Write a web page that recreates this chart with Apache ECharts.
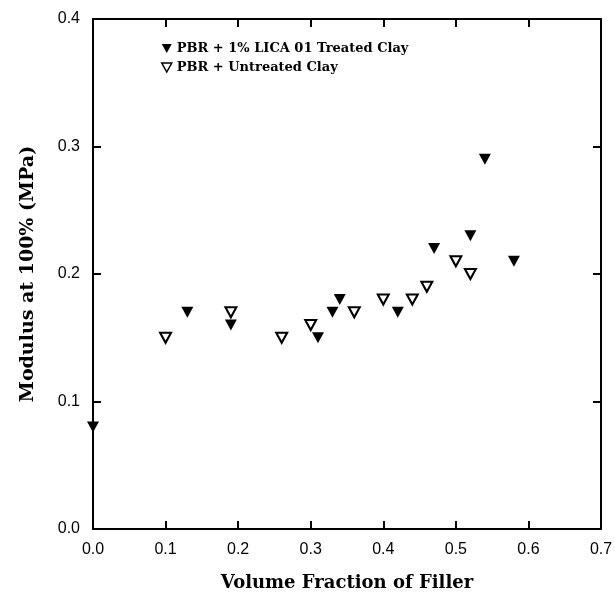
<!DOCTYPE html>
<html>
<head>
<meta charset="utf-8">
<script src="https://cdn.jsdelivr.net/npm/echarts@6/dist/echarts.min.js"></script>
<style>
  html, body { margin: 0; padding: 0; background: #fff; }
  #chart { width: 615px; height: 592px; }
</style>
</head>
<body>
<div id="chart"></div>
<script>
// Data
const treatedClay = [
    [0.00, 0.08], [0.13, 0.17], [0.19, 0.16], [0.31, 0.15], [0.33, 0.17],
    [0.34, 0.18], [0.42, 0.17], [0.47, 0.22], [0.52, 0.23], [0.54, 0.29],
    [0.58, 0.21]
];
const untreatedClay = [
    [0.10, 0.15], [0.19, 0.17], [0.26, 0.15], [0.30, 0.16], [0.36, 0.17],
    [0.40, 0.18], [0.44, 0.18], [0.46, 0.19], [0.50, 0.21], [0.52, 0.20]
];
const seriesNames = ['PBR + 1% LICA 01 Treated Clay', 'PBR + Untreated Clay'];

const chartDom = document.getElementById('chart');
const myChart = echarts.init(chartDom, null, { renderer: 'canvas' });

const downTriangle = 'path://M0,0 L10,0 L5,9 Z';
const serifFont = '"DejaVu Serif", serif';
const sansFont = '"Liberation Sans", Arial, sans-serif';

const axisLine = { show: true, onZero: false, lineStyle: { color: '#000', width: 2 } };
const tickStyle = { show: true, inside: true, length: 8, lineStyle: { color: '#000', width: 2 } };
const titleStyle = { fontFamily: serifFont, fontWeight: 'bold', fontSize: 18, color: '#000' };
const tickLabel = { formatter: v => v.toFixed(1), fontFamily: sansFont, fontSize: 16, color: '#000' };

const option = {
    backgroundColor: '#fff',
    animation: false,
    grid: { left: 93, right: 14, top: 19, bottom: 63, containLabel: false, outerBoundsMode: 'none' },
    legend: {
        orient: 'vertical',
        left: 156,
        top: 37,
        itemGap: 6,
        itemWidth: 10,
        itemHeight: 9,
        textStyle: { fontFamily: serifFont, fontWeight: 'bold', fontSize: 13, color: '#000' },
        data: [
            { name: seriesNames[0], icon: downTriangle, itemStyle: { color: '#000', borderWidth: 0, opacity: 1 } },
            { name: seriesNames[1], icon: downTriangle, itemStyle: { color: '#fff', borderColor: '#000', borderWidth: 1.5, opacity: 1 } }
        ]
    },
    xAxis: [
        {
            type: 'value',
            min: 0, max: 0.7, interval: 0.1,
            name: 'Volume Fraction of Filler',
            nameLocation: 'middle',
            nameGap: 45,
            nameTextStyle: titleStyle,
            axisLine, axisTick: tickStyle,
            splitLine: { show: false },
            axisLabel: Object.assign({ margin: 13 }, tickLabel)
        },
        {
            type: 'value', position: 'top',
            min: 0, max: 0.7, interval: 0.1,
            axisLine, axisTick: tickStyle,
            splitLine: { show: false }, axisLabel: { show: false }
        }
    ],
    yAxis: [
        {
            type: 'value',
            min: 0, max: 0.4, interval: 0.1,
            name: 'Modulus at 100% (MPa)',
            nameLocation: 'middle',
            nameGap: 55,
            nameTextStyle: Object.assign({}, titleStyle, { fontSize: 19 }),
            axisLine, axisTick: tickStyle,
            splitLine: { show: false },
            axisLabel: Object.assign({ margin: 13 }, tickLabel)
        },
        {
            type: 'value', position: 'right',
            min: 0, max: 0.4, interval: 0.1,
            axisLine, axisTick: tickStyle,
            splitLine: { show: false }, axisLabel: { show: false }
        }
    ],
    series: [
        {
            name: seriesNames[0],
            type: 'scatter',
            data: treatedClay,
            symbol: downTriangle,
            symbolSize: [12, 11],
            itemStyle: { color: '#000', opacity: 1 },
            clip: false
        },
        {
            name: seriesNames[1],
            type: 'scatter',
            data: untreatedClay,
            symbol: downTriangle,
            symbolSize: [11, 10],
            itemStyle: { color: '#fff', borderColor: '#000', borderWidth: 2, opacity: 1 },
            clip: false
        }
    ]
};

myChart.setOption(option);
</script>
</body>
</html>
